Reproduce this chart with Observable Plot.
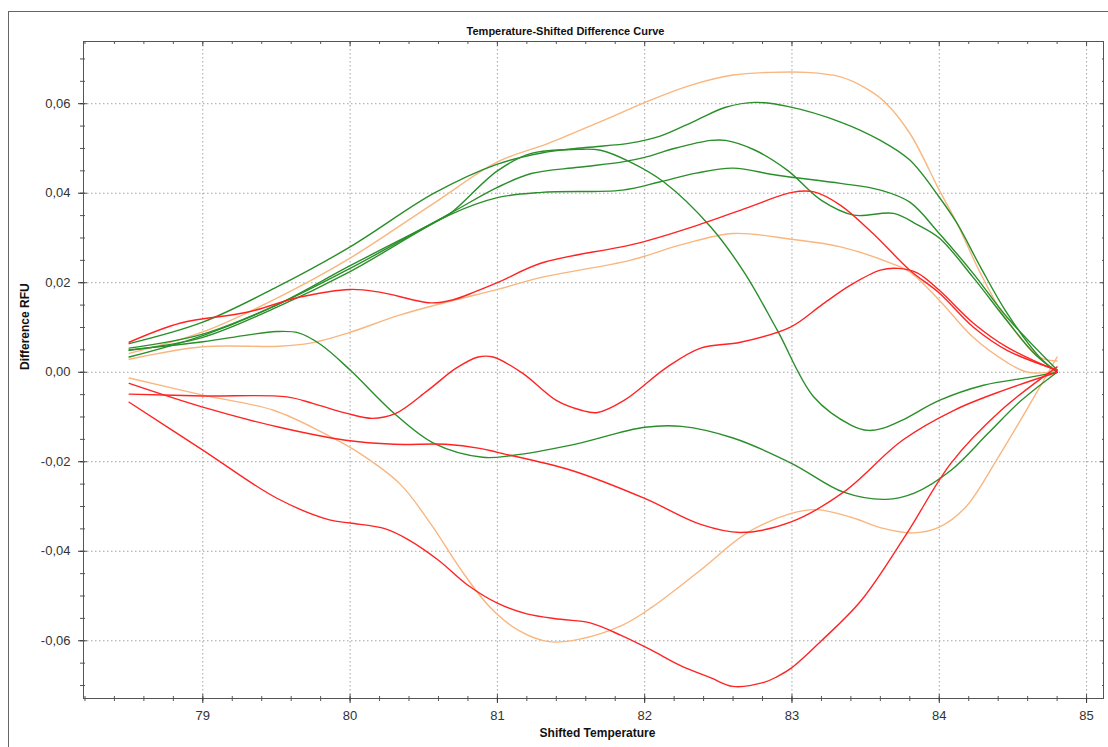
<!DOCTYPE html>
<html><head><meta charset="utf-8">
<script src="https://cdn.jsdelivr.net/npm/d3@7"></script>
<script src="https://cdn.jsdelivr.net/npm/@observablehq/plot@0.6"></script>
<style>
body{margin:0;background:#fff;font-family:"Liberation Sans",Arial,sans-serif;}
#wrap{position:relative;width:1108px;height:747px;overflow:hidden;}
#border{position:absolute;left:8px;top:11px;width:1200px;height:800px;border-left:1.5px solid #666;border-top:1.5px solid #666;pointer-events:none;}
</style></head><body><div id="wrap"><div id="border"></div></div>
<script>
const titleText = "Temperature-Shifted Difference Curve";
const xLabelText = "Shifted Temperature";
const yLabelText = "Difference RFU";
const xMajor = [79, 80, 81, 82, 83, 84, 85];
const yMajor = [-0.06, -0.04, -0.02, 0, 0.02, 0.04, 0.06];
const groupNames = ["Group A", "Group B", "Group C"];

// Group A curves (green)
const curveA1 = [[78.5,0.0064],[79,0.0112],[79.5,0.019],[80,0.028],[80.57,0.040],[81,0.0465],[81.3,0.0490],[81.6,0.0502],[81.9,0.0512],[82.1,0.0527],[82.35,0.0563],[82.55,0.0592],[82.75,0.0603],[82.97,0.0594],[83.33,0.0559],[83.6,0.0518],[83.8,0.0474],[84,0.0391],[84.12,0.0333],[84.28,0.0235],[84.46,0.0132],[84.68,0.0034],[84.8,0]];
const curveA2 = [[78.5,0.0034],[79,0.0082],[79.5,0.0150],[80,0.0238],[80.57,0.0335],[80.68,0.0355],[81,0.0450],[81.23,0.0489],[81.55,0.0498],[81.7,0.0496],[81.9,0.0470],[82.13,0.0425],[82.45,0.0324],[82.68,0.0221],[82.9,0.0094],[83.15,-0.0056],[83.4,-0.0118],[83.52,-0.0130],[83.62,-0.0125],[83.75,-0.0107],[84.0,-0.0063],[84.3,-0.0029],[84.6,-0.0012],[84.8,0]];
const curveA3 = [[78.5,0.0054],[79,0.0085],[79.5,0.0150],[80,0.0232],[80.68,0.0355],[81,0.0413],[81.23,0.0444],[81.55,0.0458],[81.85,0.0470],[82.0,0.0480],[82.2,0.0500],[82.45,0.0518],[82.55,0.0518],[82.75,0.0496],[82.97,0.0451],[83.2,0.0384],[83.42,0.0351],[83.69,0.0355],[83.85,0.0330],[84.0,0.0300],[84.23,0.0212],[84.46,0.0115],[84.65,0.004],[84.8,0]];
const curveA4 = [[78.5,0.0049],[79,0.0078],[79.5,0.0145],[80,0.0225],[80.68,0.0352],[81,0.0390],[81.3,0.0402],[81.85,0.0407],[82.1,0.0425],[82.35,0.0445],[82.6,0.0456],[82.9,0.0440],[83.33,0.0422],[83.6,0.0407],[83.8,0.0380],[84.0,0.0310],[84.23,0.0221],[84.46,0.0123],[84.8,0.0005]];
const curveA5 = [[78.5,0.0050],[79,0.0068],[79.3,0.0083],[79.5,0.0091],[79.65,0.0088],[79.8,0.0062],[80,0.0005],[80.3,-0.0092],[80.57,-0.0159],[80.9,-0.0190],[81.1,-0.0186],[81.5,-0.0163],[82.0,-0.0123],[82.25,-0.0121],[82.6,-0.0147],[83.0,-0.0204],[83.35,-0.0268],[83.64,-0.0284],[83.83,-0.0270],[84.08,-0.0219],[84.33,-0.0137],[84.55,-0.0065],[84.8,0]];

// Group B curves (red)
const curveB1 = [[78.5,0.0067],[78.85,0.0110],[79.3,0.0134],[79.66,0.0168],[80,0.0185],[80.2,0.0179],[80.55,0.0155],[80.7,0.0162],[80.85,0.0180],[81.0,0.0200],[81.3,0.0244],[81.95,0.0288],[82.4,0.0333],[82.7,0.0368],[83.0,0.0402],[83.15,0.0403],[83.33,0.0373],[83.55,0.0310],[83.8,0.0228],[84.0,0.0177],[84.23,0.0101],[84.46,0.0049],[84.8,0.0005]];
const curveB2 = [[78.5,-0.0049],[79.0,-0.0053],[79.57,-0.0055],[79.75,-0.0070],[79.98,-0.0092],[80.15,-0.0103],[80.31,-0.0092],[80.53,-0.0040],[80.72,0.0009],[80.87,0.0034],[80.97,0.0034],[81.17,-0.0002],[81.4,-0.0063],[81.57,-0.0085],[81.68,-0.0090],[81.86,-0.0063],[82.15,0.0011],[82.38,0.0054],[82.65,0.0067],[82.99,0.0101],[83.2,0.0150],[83.4,0.0195],[83.6,0.0228],[83.72,0.0232],[83.85,0.0222],[84.0,0.0183],[84.23,0.0110],[84.46,0.0056],[84.8,0.0003]];
const curveB3 = [[78.5,-0.0025],[79.0,-0.0078],[79.52,-0.0123],[79.97,-0.0152],[80.3,-0.0161],[80.65,-0.0161],[80.88,-0.0170],[81.0,-0.0179],[81.5,-0.0219],[82.0,-0.0282],[82.38,-0.0340],[82.65,-0.0358],[82.99,-0.0335],[83.35,-0.0268],[83.75,-0.0152],[84.1,-0.0085],[84.44,-0.0040],[84.8,0]];
const curveB4 = [[78.5,-0.0067],[79.0,-0.0174],[79.5,-0.0281],[79.86,-0.0330],[80.0,-0.0337],[80.24,-0.0350],[80.4,-0.0375],[80.6,-0.0420],[80.8,-0.0476],[81.0,-0.0516],[81.2,-0.0540],[81.43,-0.0552],[81.63,-0.0560],[81.84,-0.0588],[82.04,-0.0620],[82.24,-0.0655],[82.45,-0.0683],[82.6,-0.0702],[82.81,-0.0693],[82.9,-0.0680],[83.0,-0.0660],[83.2,-0.0600],[83.47,-0.0510],[83.78,-0.0360],[84.08,-0.0203],[84.42,-0.0085],[84.8,0.0012]];

// Group C curves (orange)
const curveC1 = [[78.5,0.0042],[79,0.0090],[79.5,0.0165],[80,0.0255],[80.57,0.0378],[81,0.0470],[81.35,0.0512],[81.7,0.0560],[82.04,0.0608],[82.3,0.0640],[82.6,0.0664],[82.85,0.0670],[83.1,0.0670],[83.33,0.0660],[83.5,0.0635],[83.63,0.0604],[83.8,0.0534],[84.0,0.0407],[84.12,0.0333],[84.28,0.0221],[84.46,0.0116],[84.68,0.0034],[84.8,0.0025]];
const curveC2 = [[78.5,0.0029],[79,0.0057],[79.52,0.0058],[79.73,0.0065],[79.98,0.0087],[80.33,0.0127],[80.66,0.0157],[81.0,0.0185],[81.3,0.0212],[81.9,0.0250],[82.25,0.0285],[82.6,0.0310],[83.0,0.0297],[83.33,0.0280],[83.67,0.0244],[83.8,0.0224],[84.0,0.0161],[84.23,0.0078],[84.46,0.0022],[84.6,0.0],[84.8,0.0002]];
const curveC3 = [[78.5,-0.0013],[79,-0.0051],[79.48,-0.0085],[79.82,-0.0136],[80.05,-0.0178],[80.34,-0.0250],[80.55,-0.0340],[80.75,-0.0440],[80.95,-0.0525],[81.15,-0.0578],[81.35,-0.0602],[81.55,-0.0597],[81.85,-0.0565],[82.05,-0.0525],[82.38,-0.0442],[82.69,-0.0360],[82.99,-0.0316],[83.17,-0.0307],[83.4,-0.0324],[83.62,-0.0349],[83.82,-0.0359],[84.0,-0.0346],[84.18,-0.0301],[84.4,-0.0190],[84.63,-0.0063],[84.8,0.0034]];

const seriesList = [
  {name:"C1", group:"Group C", points:curveC1},
  {name:"C2", group:"Group C", points:curveC2},
  {name:"C3", group:"Group C", points:curveC3},
  {name:"A1", group:"Group A", points:curveA1},
  {name:"A2", group:"Group A", points:curveA2},
  {name:"A3", group:"Group A", points:curveA3},
  {name:"A4", group:"Group A", points:curveA4},
  {name:"A5", group:"Group A", points:curveA5},
  {name:"B1", group:"Group B", points:curveB1},
  {name:"B2", group:"Group B", points:curveB2},
  {name:"B3", group:"Group B", points:curveB3},
  {name:"B4", group:"Group B", points:curveB4}
];
const rows = seriesList.flatMap(s => s.points.map(([x, y]) => ({name:s.name, group:s.group, x, y})));

const xMinor = d3.range(78.2, 85.11, 0.2).map(v => +v.toFixed(1));
const yMinor = d3.range(-0.07, 0.0701, 0.005).map(v => +v.toFixed(3));
const fmtY = d => d3.format(".2f")(d).replace(".", ",").replace("\u2212", "-");
const gridStyle = {stroke:"#9a9a9a", strokeOpacity:0.9, strokeDasharray:"1.5,2.5"};
const none = () => "";

const lineMark = g => Plot.line(rows.filter(r => r.group === g), {
  x:"x", y:"y", z:"name", stroke:"group", strokeWidth:1.4, curve:"catmull-rom"
});

const chart = Plot.plot({
  width:1108, height:747,
  marginLeft:83, marginRight:5, marginTop:41, marginBottom:49,
  x:{domain:[78.19, 85.115], label:null},
  y:{domain:[-0.0729, 0.0739], label:null},
  color:{domain:groupNames, range:["#2a8e2a", "#ff2424", "#f9b67f"]},
  style:{fontFamily:"'Liberation Sans', Arial, sans-serif", background:"transparent", overflow:"visible"},
  marks:[
    Plot.gridX(xMajor, gridStyle),
    Plot.gridY(yMajor, gridStyle),
    lineMark("Group C"),
    lineMark("Group A"),
    lineMark("Group B"),
    Plot.frame({stroke:"#555", strokeWidth:1}),
    // bottom axis
    Plot.axisX(xMinor, {anchor:"bottom", tickSize:3, tickFormat:none, label:null, color:"#555"}),
    Plot.axisX(xMinor, {anchor:"bottom", tickSize:-2, tickFormat:none, label:null, color:"#555"}),
    Plot.axisX(xMajor, {anchor:"bottom", tickSize:5, tickPadding:7, tickFormat:d => String(d), label:null, fontSize:13, color:"#333"}),
    Plot.axisX(xMajor, {anchor:"bottom", tickSize:-4, tickFormat:none, label:null, color:"#555"}),
    // top axis (inward)
    Plot.axisX(xMinor, {anchor:"top", tickSize:-2, tickFormat:none, label:null, color:"#555"}),
    Plot.axisX(xMajor, {anchor:"top", tickSize:-4, tickFormat:none, label:null, color:"#555"}),
    // left axis
    Plot.axisY(yMinor, {anchor:"left", tickSize:3, tickFormat:none, label:null, color:"#555"}),
    Plot.axisY(yMinor, {anchor:"left", tickSize:-2, tickFormat:none, label:null, color:"#555"}),
    Plot.axisY(yMajor, {anchor:"left", tickSize:5, tickPadding:8, tickFormat:fmtY, label:null, fontSize:13, color:"#333"}),
    Plot.axisY(yMajor, {anchor:"left", tickSize:-4, tickFormat:none, label:null, color:"#555"}),
    // right axis (inward)
    Plot.axisY(yMinor, {anchor:"right", tickSize:-2, tickFormat:none, label:null, color:"#555"}),
    Plot.axisY(yMajor, {anchor:"right", tickSize:-4, tickFormat:none, label:null, color:"#555"}),
    // titles
    Plot.text([titleText], {text:d => d, frameAnchor:"top", dy:-14, dx:-28, fontSize:11, fontWeight:"bold", fill:"#111"}),
    Plot.text([xLabelText], {text:d => d, frameAnchor:"bottom", dy:38, dx:4, fontSize:12, fontWeight:"bold", fill:"#111"}),
    Plot.text([yLabelText], {text:d => d, frameAnchor:"left", rotate:-90, dx:-58, fontSize:12, fontWeight:"bold", fill:"#111"})
  ]
});
chart.style.position = "absolute";
chart.style.left = "0px";
chart.style.top = "0px";
document.getElementById("wrap").prepend(chart);
</script>
</body></html>
